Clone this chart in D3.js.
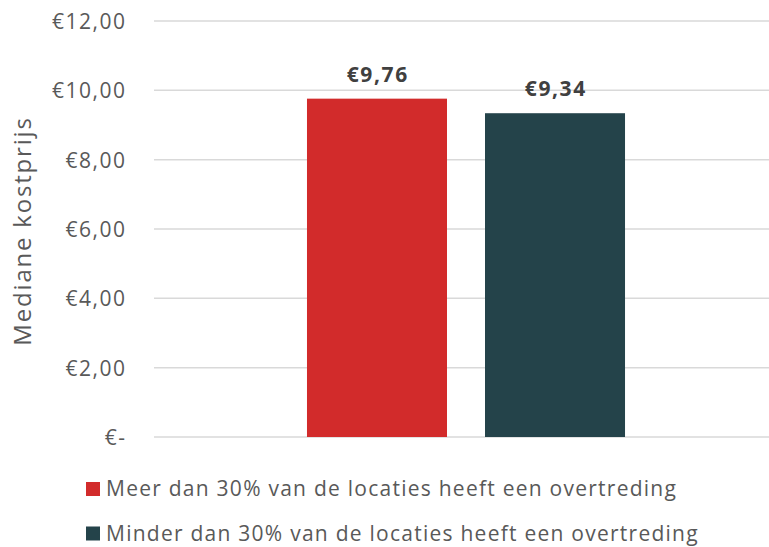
<!DOCTYPE html>
<html>
<head>
<meta charset="utf-8">
<script src="https://cdn.jsdelivr.net/npm/d3@7"></script>
<style>
  body { margin: 0; background: #fff; }
  svg { display: block; }
  text { font-family: "Open Sans", "Noto Sans", sans-serif; }
</style>
</head>
<body>
<svg id="chart" width="769" height="547"></svg>
<script>
// data
const categories = ['Mediane kostprijs'];
const series = [
  'Meer dan 30% van de locaties heeft een overtreding',
  'Minder dan 30% van de locaties heeft een overtreding'
];
const values = [9.76, 9.34];
const colors = ['#d22b2b', '#24434a'];
const yTicks = [0, 2, 4, 6, 8, 10, 12];

const margin = { top: 21, left: 154, right: -9, bottom: 110 };
const width = 769, height = 547;

const fmt = (d) => d === 0 ? '€-' : '€' + d3.format('.2f')(d).replace('.', ',');

const svg = d3.select('#chart');

const y = d3.scaleLinear()
  .domain([0, 12])
  .range([height - margin.bottom, margin.top]);

const x0 = d3.scaleBand()
  .domain(categories)
  .range([margin.left, width - margin.right])
  .paddingOuter(0.481)
  .paddingInner(0);

const x1 = d3.scaleBand()
  .domain(series)
  .range([0, x0.bandwidth()])
  .paddingInner(0.2135)
  .paddingOuter(0);

// gridlines
svg.append('g')
  .selectAll('line')
  .data(yTicks)
  .join('line')
  .attr('x1', margin.left)
  .attr('x2', width)
  .attr('y1', (d) => y(d))
  .attr('y2', (d) => y(d))
  .attr('stroke', '#d9d9d9')
  .attr('stroke-width', 1.5);

// y axis labels (letter-spacing adds a trailing gap, so shift right a bit)
const yAxis = d3.axisLeft(y).tickValues(yTicks).tickFormat(fmt).tickSize(0).tickPadding(0);
const yAxisG = svg.append('g')
  .attr('transform', `translate(126.5,0)`)
  .call(yAxis);
yAxisG.select('.domain').remove();
yAxisG.selectAll('text')
  .attr('fill', '#595959')
  .style('font-size', '21px')
  .style('letter-spacing', '1.5px')
  .attr('dy', '0.35em');

// axis title
svg.append('text')
  .attr('transform', `translate(31,${(y(0) + y(12)) / 2 + 2}) rotate(-90)`)
  .attr('text-anchor', 'middle')
  .attr('fill', '#595959')
  .style('font-size', '24px')
  .style('letter-spacing', '1.8px')
  .text('Mediane kostprijs');

// bars
const g = svg.append('g')
  .attr('transform', `translate(${x0(categories[0])},0)`);

g.selectAll('rect')
  .data(values)
  .join('rect')
  .attr('x', (d, i) => x1(series[i]))
  .attr('y', (d) => y(d))
  .attr('width', x1.bandwidth())
  .attr('height', (d) => y(0) - y(d))
  .attr('fill', (d, i) => colors[i]);

g.selectAll('text.label')
  .data(values)
  .join('text')
  .attr('class', 'label')
  .attr('x', (d, i) => x1(series[i]) + x1.bandwidth() / 2 + 0.8)
  .attr('y', (d) => y(d) - 17)
  .attr('text-anchor', 'middle')
  .attr('fill', '#404040')
  .style('font-size', '21px')
  .style('font-weight', 'bold')
  .style('letter-spacing', '1.6px')
  .text(fmt);

// legend
const legend = svg.append('g')
  .selectAll('g')
  .data(series)
  .join('g')
  .attr('transform', (d, i) => `translate(86,${482 + i * 44.5})`);

legend.append('rect')
  .attr('width', 14)
  .attr('height', 14)
  .attr('fill', (d, i) => colors[i]);

legend.append('text')
  .attr('x', 20)
  .attr('y', 7)
  .attr('dy', '0.35em')
  .attr('fill', '#595959')
  .style('font-size', '21px')
  .style('letter-spacing', '1.25px')
  .text((d) => d);
</script>
</body>
</html>
